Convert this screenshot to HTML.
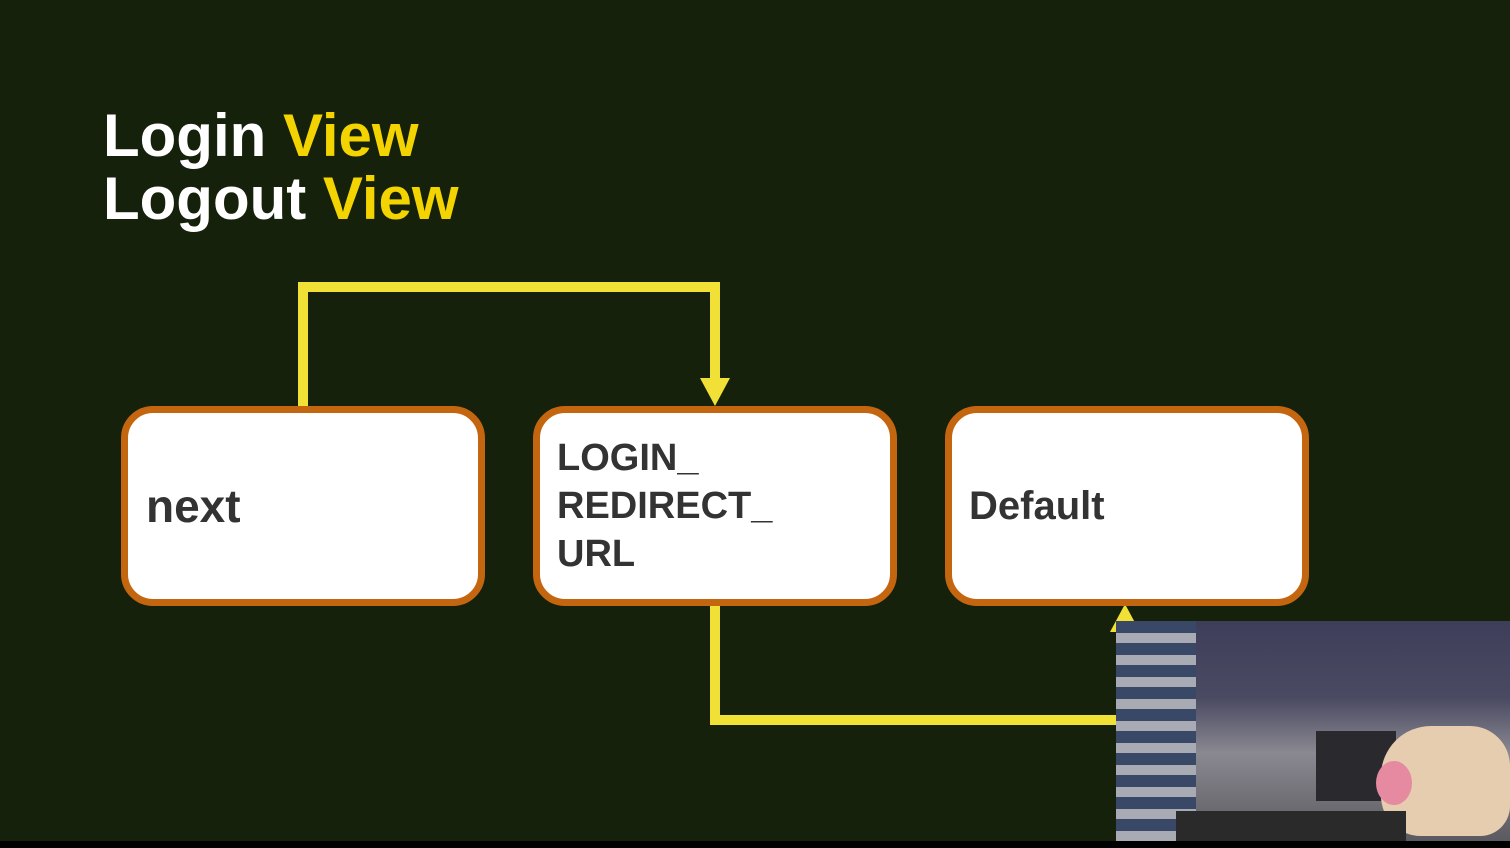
<!DOCTYPE html>
<html><head><meta charset="utf-8"><style>
body{margin:0;width:1510px;height:848px;background:#15210b;position:relative;overflow:hidden;font-family:"Liberation Sans","DejaVu Sans",sans-serif}
.t{position:absolute;left:103px;color:#fff;font-size:60px;font-weight:bold;line-height:1}
.t span{color:#f3d400}
.box{position:absolute;top:406px;width:350px;height:186px;background:#fff;border:7px solid #c4650f;border-radius:32px}
.lbl{position:absolute;color:#333;font-weight:bold;font-size:42px;line-height:48px}
</style></head><body>
<div class="t" style="top:106px">Login <span>View</span></div>
<div class="t" style="top:169px">Logout <span>View</span></div>
<svg width="1510" height="848" style="position:absolute;left:0;top:0">
<polyline points="303,408 303,287 715,287 715,385" fill="none" stroke="#f1e035" stroke-width="10"/>
<polygon points="700,378 730,378 715,406" fill="#f1e035"/>
<polyline points="715,605 715,720 1120,720" fill="none" stroke="#f1e035" stroke-width="10"/>
<polygon points="1110,632 1140,632 1125,604" fill="#f1e035"/>
</svg>
<div class="box" style="left:121px"></div>
<div class="box" style="left:533px"></div>
<div class="box" style="left:945px"></div>
<div class="lbl" style="left:146px;top:482px;font-size:46px">next</div>
<div class="lbl" style="left:557px;top:434px;font-size:38px">LOGIN_<br>REDIRECT_<br>URL</div>
<div class="lbl" style="left:969px;top:482px;font-size:40px">Default</div>
<div style="position:absolute;left:1116px;top:621px;width:394px;height:220px;background:linear-gradient(180deg,#3e3e5a 0%,#4a4a62 35%,#8a8890 60%,#5a5a60 100%)">
<div style="position:absolute;left:0;top:0;width:80px;height:220px;background:repeating-linear-gradient(180deg,#3a4868 0 12px,#a8aab4 12px 22px)"></div>
<div style="position:absolute;left:200px;top:110px;width:80px;height:70px;background:#2a2a2e"></div>
<div style="position:absolute;left:265px;top:105px;width:129px;height:110px;background:#e6cdb0;border-radius:50px 40px 30px 40px"></div>
<div style="position:absolute;left:260px;top:140px;width:36px;height:44px;background:#e58aa0;border-radius:50%"></div>
<div style="position:absolute;left:60px;top:190px;width:230px;height:30px;background:#2a2a2a"></div>
</div>
<div style="position:absolute;left:0;top:841px;width:1510px;height:7px;background:#000"></div>
</body></html>
